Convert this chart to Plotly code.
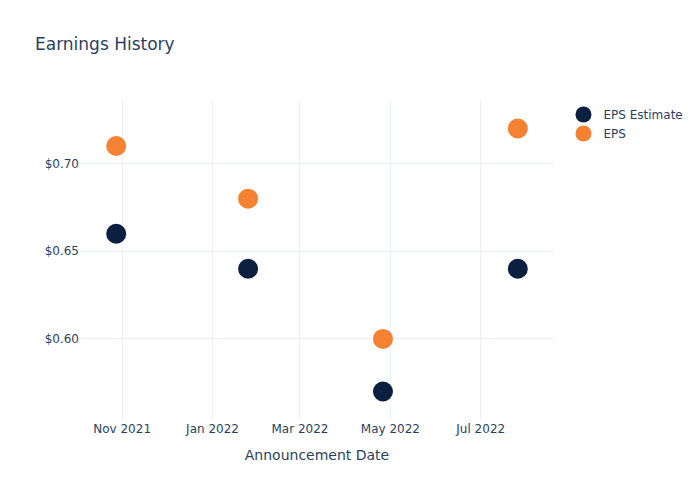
import plotly.graph_objects as go

dates = ["2021-10-28", "2022-01-25", "2022-04-26", "2022-07-26"]
eps_estimate = [0.66, 0.64, 0.57, 0.64]
eps_actual = [0.71, 0.68, 0.60, 0.72]

fig = go.Figure()
fig.add_trace(go.Scatter(x=dates, y=eps_estimate, mode="markers", name="EPS Estimate",
                         marker=dict(color="#0b1f40", size=20)))
fig.add_trace(go.Scatter(x=dates, y=eps_actual, mode="markers", name="EPS",
                         marker=dict(color="#f58232", size=20)))
fig.update_layout(
    template="plotly_white",
    width=700, height=500,
    title=dict(text="Earnings History"),
    font=dict(family="DejaVu Sans"),
    xaxis=dict(title="Announcement Date"),
    yaxis=dict(tickprefix="$", tickformat=".2f"),
)
fig.write_html("out.html")
